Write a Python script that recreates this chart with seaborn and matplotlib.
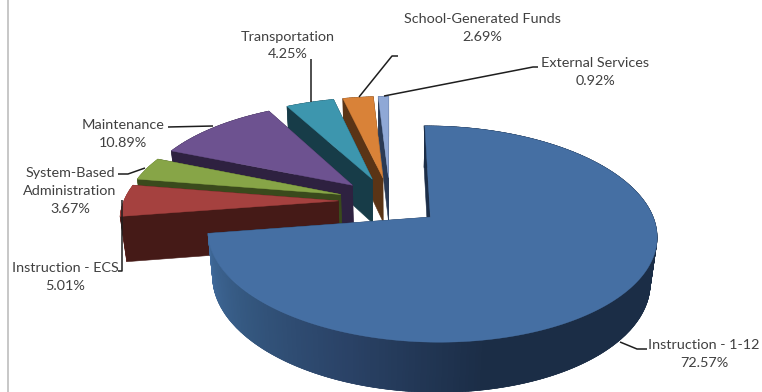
import numpy as np
import matplotlib
matplotlib.use("Agg")
import matplotlib.pyplot as plt
import seaborn as sns

# Budget shares, in clockwise order starting from twelve o'clock
labels = ["Instruction - 1-12", "Instruction - ECS", "System-Based\nAdministration",
          "Maintenance", "Transportation", "School-Generated Funds", "External Services"]
shares = [72.57, 5.01, 3.67, 10.89, 4.25, 2.69, 0.92]

top_colors = ["#456FA3", "#A5413F", "#87A547", "#6D5290", "#3D96AE", "#D98238", "#8FA8D6"]
wall_colors = ["#1C2E48", "#451A17", "#3A4A1C", "#2E2140", "#173C48", "#5A3416", "#2A3A55"]
rim_colors = ["#1C2E48", "#8E3634", "#5F7A2E", "#2E2140", "#173C48", "#5A3416", "#2A3A55"]

# Where each label sits and the elbow of its leader line
label_pos = [(704, 354), (65.5, 277), (70, 191), (123, 134), (288, 45.5), (482.5, 28), (595, 72)]
leaders = [
    [(647, 349), (637, 349), (620, 342)],
    [(118, 271), (122, 271), (122, 200)],
    [(118, 174), (128, 174), (145, 168)],
    [(168, 127), (213, 126)],
    [(311, 59), (311, 102)],
    [(398, 56), (392, 56), (359, 97)],
    [(538, 67), (533, 67), (384, 96)],
]

EXPLODE = 0.24
CX, CY = 390.0, 201.0
SCALE_X, SCALE_Y = 216.0, 100.4
PERSP_V, PERSP_U = 0.153, -0.005
DEPTH, DEPTH_PERSP = 46.0, 0.025


def project(u, v, lowered=False):
    """Tilted perspective view of a point on the pie's top or bottom face."""
    u, v = np.asarray(u, float), np.asarray(v, float)
    den = 1 + PERSP_V * v + PERSP_U * u + (DEPTH_PERSP if lowered else 0)
    x = CX + SCALE_X * u / den
    y = CY + (-SCALE_Y * v + (DEPTH if lowered else 0)) / den
    return x, y


sns.set_theme(style="white")
plt.rcParams["font.family"] = ["Lato", "DejaVu Sans"]

fig = plt.figure(figsize=(7.62, 3.92), dpi=100)
ax = fig.add_axes([0, 0, 1, 1])
ax.set_xlim(0, 762)
ax.set_ylim(392, 0)
ax.axis("off")

# Frame edge along the left of the chart area
ax.plot([7.5, 7.5], [0, 392], color="#BDBDBD", lw=1.2, solid_capstyle="butt")

# Wedge angles, clockwise from 90 degrees
cum = np.concatenate([[0], np.cumsum(shares)]) / np.sum(shares) * 360
starts = 90 - cum[:-1]
ends = 90 - cum[1:]

# Shading of the large slice's rim, from its lit left end to the dark right side
rim_ramp = sns.blend_palette(["#416B9C", "#34577F", "#2A4266", "#1B2D46"], 256)


def quad(ua, va, ub, vb, color, zorder):
    xa, ya = project(ua, va)
    xb, yb = project(ub, vb)
    xc, yc = project(ub, vb, True)
    xd, yd = project(ua, va, True)
    ax.fill([xa, xb, xc, xd], [ya, yb, yc, yd], color=color, lw=0.4, zorder=zorder)


# Back slices are painted first so the nearer ones overlap them
for i in range(len(shares) - 1, -1, -1):
    a0, a1 = np.radians(starts[i]), np.radians(ends[i])
    mid = (a0 + a1) / 2
    ou, ov = EXPLODE * np.cos(mid), EXPLODE * np.sin(mid)
    thetas = np.linspace(a0, a1, max(int(abs(np.degrees(a1 - a0)) * 1.5), 8))
    us, vs = ou + np.cos(thetas), ov + np.sin(thetas)
    z = 10 + (len(shares) - i) if i else 30

    # Radial walls sit over the small slices' rims
    wall_z = z - 0.1 if i == 0 else z + 0.3
    quad(ou, ov, us[0], vs[0], wall_colors[i], wall_z)
    quad(ou, ov, us[-1], vs[-1], wall_colors[i], wall_z)

    # Outer rim, with neighbouring strips overlapping so no seams show
    for j in range(len(thetas) - 1):
        if i == 0:
            deg = np.degrees(thetas[j])
            t = np.clip((deg + 171) / 91, 0, 1)
            color = rim_ramp[int(t * 255)]
            k = max(j - 1, 0)
            quad(us[k], vs[k], us[j + 1], vs[j + 1], color, z + 0.2 + 1e-4 * j)
        else:
            quad(us[j], vs[j], us[j + 1], vs[j + 1], rim_colors[i], z + 0.2)

    # Top face
    x, y = project(np.r_[ou, us], np.r_[ov, vs])
    ax.fill(x, y, color=top_colors[i], lw=0.3, zorder=z + 0.4)

    # Thin shadow along the vertical edge of the large slice
    if i == 0:
        ex, ey = project([us[0], ou], [vs[0], ov])
        ax.plot(ex - 0.6, ey, color="#1C2E48", lw=0.9, zorder=z + 0.3)

# Labels with their leader lines
for name, share, pos, path in zip(labels, shares, label_pos, leaders):
    ax.text(pos[0], pos[1], f"{name}\n{share:.2f}%", ha="center", va="center",
            fontsize=10.4, color="#404040", linespacing=1.56, zorder=50)
    px, py = zip(*path)
    ax.plot(px, py, color="#1E1E1E", lw=1.1, zorder=40, solid_capstyle="butt")

fig.savefig("out.png", dpi=100, facecolor="white")
